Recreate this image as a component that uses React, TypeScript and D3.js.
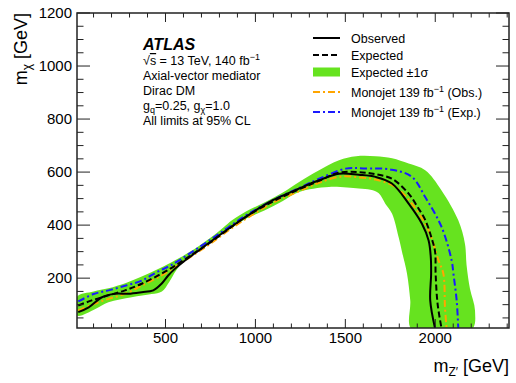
import { useMemo } from "react";
import * as d3 from "d3";

// contour points, [m_Z' , m_chi] in GeV
const observed = [
  [15, 72], [73, 90], [147, 128], [220, 141], [294, 141], [368, 147], [432, 154],
  [478, 179], [515, 210], [552, 235], [600, 262], [700, 312], [800, 362], [900, 410],
  [1000, 455], [1100, 495], [1243, 538], [1354, 569], [1465, 594], [1575, 590],
  [1668, 582], [1759, 557], [1852, 481], [1926, 405], [1963, 342], [1975, 280],
  [1977, 217], [1972, 116], [1999, 10],
];
const expected = [
  [15, 97], [90, 116], [183, 135], [275, 154], [368, 179], [478, 217], [550, 245],
  [650, 290], [750, 335], [850, 385], [967, 440], [1100, 490], [1243, 535], [1354, 567],
  [1465, 598], [1575, 600], [1668, 592], [1759, 575], [1852, 519], [1900, 470],
  [1944, 420], [1980, 350], [1999, 300], [2002, 217], [2013, 103], [2035, 10],
];
const monojetObs = [
  [15, 78], [91, 100], [183, 122], [275, 141], [368, 172], [478, 210], [560, 245],
  [650, 285], [750, 330], [850, 380], [967, 432], [1100, 485], [1243, 528], [1354, 560],
  [1483, 584], [1575, 580], [1668, 572], [1778, 544], [1870, 481], [1963, 380],
  [2018, 267], [2045, 217], [2054, 91], [2063, 10],
];
const monojetExp = [
  [15, 112], [100, 140], [183, 154], [280, 172], [368, 191], [450, 222], [534, 250],
  [650, 300], [750, 345], [850, 392], [967, 445], [1100, 495], [1243, 540], [1354, 575],
  [1502, 613], [1600, 614], [1759, 609], [1870, 582], [1944, 506], [2035, 393],
  [2091, 267], [2101, 217], [2119, 116], [2128, 10],
];
const bandOuter = [
  [8, 130], [100, 150], [183, 162], [280, 182], [368, 206], [450, 232], [534, 260],
  [650, 305], [750, 352], [820, 390], [870, 418], [950, 452], [1050, 485], [1150, 522],
  [1243, 563], [1354, 607], [1465, 645], [1560, 660], [1668, 660], [1760, 652],
  [1852, 632], [1944, 607], [2035, 531], [2128, 418], [2165, 330], [2174, 250],
  [2193, 160], [2221, 78], [2202, 5],
];
const bandInner = [
  [1870, 5], [1861, 116], [1843, 217], [1815, 300], [1796, 355], [1760, 443],
  [1723, 480], [1686, 520], [1640, 533], [1575, 538], [1409, 544], [1243, 525],
  [1150, 490], [1050, 455], [950, 425], [870, 390], [800, 360], [700, 315], [600, 262],
  [560, 230], [520, 185], [480, 150], [423, 140], [312, 128], [183, 109], [110, 84], [8, 59],
];

const xTicks = [500, 1000, 1500, 2000];
const yTicks = [200, 400, 600, 800, 1000, 1200];

const W = 516, H = 383;
const L = 77, R = 509, T = 13, B = 328;
const FONT = "'Liberation Sans', Arial, Helvetica, sans-serif";

export default function App() {
  const x = useMemo(() => d3.scaleLinear().domain([8, 2410]).range([L, R]), []);
  const y = useMemo(() => d3.scaleLinear().domain([12, 1200]).range([B, T]), []);

  const line = d3.line<number[]>().x(d => x(d[0])).y(d => y(d[1])).curve(d3.curveCatmullRom.alpha(0.5));
  const band = d3.line<number[]>().x(d => x(d[0])).y(d => y(d[1])).curve(d3.curveCatmullRomClosed.alpha(0.5));

  const xMinor = d3.range(100, 2401, 100).filter(v => v % 500 !== 0);
  const yMinor = d3.range(50, 1200, 50).filter(v => v % 200 !== 0);

  const legend = [
    { label: "Observed", kind: "line", color: "#000", dash: "" },
    { label: "Expected", kind: "line", color: "#000", dash: "6,3" },
    { label: "Expected ±1σ", kind: "box", color: "#66e31f", dash: "" },
    { label: "Monojet 139 fb", kind: "line", color: "#ffa500", dash: "7,3,2,3", tail: " (Obs.)" },
    { label: "Monojet 139 fb", kind: "line", color: "#1a1aff", dash: "7,3,2,3", tail: " (Exp.)" },
  ];
  const legendY = [38, 55, 72, 92, 112];

  return (
    <svg width={W} height={H} style={{ position: "absolute", left: 0, top: 0, background: "#fff" }} fontFamily={FONT}>
      <defs>
        <clipPath id="plot"><rect x={L} y={T} width={R - L} height={B - T} /></clipPath>
      </defs>
      <g clipPath="url(#plot)">
        <path d={band([...bandOuter, ...bandInner]) || ""} fill="#66e31f" />
        <path d={line(monojetExp) || ""} fill="none" stroke="#1a1aff" strokeWidth={2} strokeDasharray="7,3,2,3" />
        <path d={line(monojetObs) || ""} fill="none" stroke="#ffa500" strokeWidth={2} strokeDasharray="7,3,2,3" />
        <path d={line(expected) || ""} fill="none" stroke="#000" strokeWidth={2} strokeDasharray="6,3" />
        <path d={line(observed) || ""} fill="none" stroke="#000" strokeWidth={2} />
      </g>

      {/* frame and ticks */}
      <g stroke="#222" strokeWidth={1}>
        {xTicks.map(v => (
          <g key={"xt" + v}>
            <line x1={x(v)} x2={x(v)} y1={B} y2={B - 9} />
            <line x1={x(v)} x2={x(v)} y1={T} y2={T + 9} />
          </g>
        ))}
        {xMinor.map(v => (
          <g key={"xm" + v}>
            <line x1={x(v)} x2={x(v)} y1={B} y2={B - 4.5} />
            <line x1={x(v)} x2={x(v)} y1={T} y2={T + 4.5} />
          </g>
        ))}
        {yTicks.map(v => (
          <g key={"yt" + v}>
            <line x1={L} x2={L + 13} y1={y(v)} y2={y(v)} />
            <line x1={R} x2={R - 13} y1={y(v)} y2={y(v)} />
          </g>
        ))}
        {yMinor.map(v => (
          <g key={"ym" + v}>
            <line x1={L} x2={L + 6.5} y1={y(v)} y2={y(v)} />
            <line x1={R} x2={R - 6.5} y1={y(v)} y2={y(v)} />
          </g>
        ))}
        <rect x={L} y={T} width={R - L} height={B - T} fill="none" strokeWidth={1.5} />
      </g>

      <g fontSize={15} fill="#000">
        {xTicks.map(v => (
          <text key={"xl" + v} x={x(v)} y={B + 15} textAnchor="middle">{v}</text>
        ))}
        {yTicks.map(v => (
          <text key={"yl" + v} x={L - 5} y={y(v) + 5} textAnchor="end">{v}</text>
        ))}
      </g>

      {/* axis titles */}
      <text x={R} y={372} textAnchor="end" fontSize={18}>
        m<tspan fontSize={12} dy={4}>Z′</tspan><tspan dy={-4}> [GeV]</tspan>
      </text>
      <text transform={`translate(27, ${T}) rotate(-90)`} textAnchor="end" fontSize={18}>
        m<tspan fontSize={12} dy={4}>χ</tspan><tspan dy={-4}> [GeV]</tspan>
      </text>

      {/* ATLAS label block */}
      <text x={143} y={50} fontSize={16} fontWeight="bold" fontStyle="italic">ATLAS</text>
      <g fontSize={12.5}>
        <text x={143} y={65}>
          √<tspan textDecoration="overline">s</tspan> = 13 TeV, 140 fb<tspan fontSize={9} dy={-5}>−1</tspan>
        </text>
        <text x={143} y={80}>Axial-vector mediator</text>
        <text x={143} y={95}>Dirac DM</text>
        <text x={143} y={110}>
          g<tspan fontSize={9} dy={3}>q</tspan><tspan dy={-3}>=0.25, g</tspan><tspan fontSize={9} dy={3}>χ</tspan><tspan dy={-3}>=1.0</tspan>
        </text>
        <text x={143} y={125}>All limits at 95% CL</text>
      </g>

      {/* legend */}
      <g fontSize={12.5}>
        {legend.map((d, i) => (
          <g key={"lg" + i}>
            {d.kind === "box" ? (
              <rect x={313} y={legendY[i] - 4.5} width={27} height={9} fill={d.color} />
            ) : (
              <line x1={313} x2={340} y1={legendY[i]} y2={legendY[i]} stroke={d.color} strokeWidth={2} strokeDasharray={d.dash} />
            )}
            <text x={351} y={legendY[i] + 4.5}>
              {d.label}
              {d.tail ? <><tspan fontSize={9} dy={-5}>−1</tspan><tspan dy={5}>{d.tail}</tspan></> : null}
            </text>
          </g>
        ))}
      </g>
    </svg>
  );
}
